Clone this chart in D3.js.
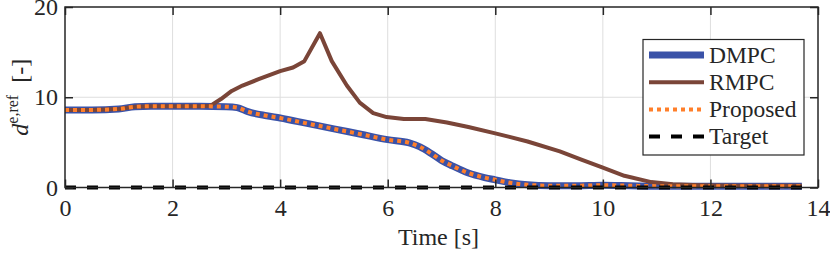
<!DOCTYPE html>
<html lang="en">
<head>
<meta charset="utf-8">
<title>Distance to reference</title>
<script src="https://cdn.jsdelivr.net/npm/d3@7"></script>
<style>
  body { margin: 0; background: #fff; }
  text { font-family: "Liberation Serif", "DejaVu Serif", serif; fill: #262626; }
  .tick text { font-size: 24px; }
</style>
</head>
<body>
<div id="chart"></div>
<script>
// time [s] and values
var dmpcT = [0, 0.5, 1.0, 1.3, 1.6, 2.0, 2.5, 3.0, 3.2, 3.4, 3.75, 4.0, 4.5, 5.0, 5.5, 6.0, 6.4, 6.6, 6.8, 7.0, 7.2, 7.5, 7.8, 8.0, 8.3, 8.6, 9.0, 9.5, 10.0, 10.5, 11.0, 11.5, 12.0, 12.5, 13.0, 13.7];
var dmpcV = [8.6, 8.6, 8.7, 8.95, 9.0, 9.0, 9.0, 8.95, 8.85, 8.4, 7.95, 7.7, 7.1, 6.5, 5.9, 5.3, 4.95, 4.5, 3.8, 3.0, 2.4, 1.6, 1.1, 0.85, 0.5, 0.3, 0.2, 0.2, 0.25, 0.2, 0.15, 0.15, 0.15, 0.15, 0.15, 0.15];

var rmpcT = [0, 0.5, 1.0, 1.3, 1.6, 2.0, 2.5, 2.7, 2.9, 3.1, 3.3, 3.6, 4.0, 4.24, 4.45, 4.74, 4.96, 5.24, 5.48, 5.73, 5.98, 6.3, 6.7, 7.1, 7.5, 8.0, 8.6, 9.2, 9.6, 10.0, 10.4, 10.9, 11.3, 11.8, 12.5, 13.7];
var rmpcV = [8.6, 8.6, 8.7, 8.95, 9.0, 9.0, 9.0, 9.05, 9.8, 10.7, 11.3, 12.0, 12.9, 13.3, 14.0, 17.1, 14.0, 11.3, 9.4, 8.25, 7.8, 7.6, 7.6, 7.2, 6.7, 6.0, 5.1, 4.0, 3.1, 2.2, 1.3, 0.6, 0.35, 0.25, 0.2, 0.2];

var propT = dmpcT.slice();
var propV = [8.6, 8.6, 8.7, 8.95, 9.0, 9.0, 9.0, 8.95, 8.85, 8.4, 7.95, 7.7, 7.1, 6.5, 5.9, 5.3, 4.95, 4.5, 3.8, 3.0, 2.4, 1.6, 1.1, 0.85, 0.5, 0.3, 0.2, 0.2, 0.25, 0.2, 0.15, 0.15, 0.15, 0.15, 0.15, 0.15];

var targetT = [0, 13.7];
var targetV = [0, 0];

var xTicks = [0, 2, 4, 6, 8, 10, 12, 14];
var yTicks = [0, 10, 20];

var w = 830, h = 254;
var mL = 65, mR = 818, mT = 7, mB = 187.5;

var svg = d3.select("#chart").append("svg")
  .attr("width", w)
  .attr("height", h);

var x = d3.scaleLinear().domain([0, 14]).range([mL, mR]);
var y = d3.scaleLinear().domain([0, 20]).range([mB, mT]);

// grid
svg.append("g").selectAll("line")
  .data(xTicks.slice(1, -1))
  .enter().append("line")
  .attr("x1", d => x(d)).attr("x2", d => x(d))
  .attr("y1", mT).attr("y2", mB)
  .attr("stroke", "#dedede").attr("stroke-width", 1);
svg.append("g").selectAll("line")
  .data(yTicks.slice(1, -1))
  .enter().append("line")
  .attr("x1", mL).attr("x2", mR)
  .attr("y1", d => y(d)).attr("y2", d => y(d))
  .attr("stroke", "#dedede").attr("stroke-width", 1);

var series = [
  { name: "DMPC", t: dmpcT, v: dmpcV, color: "#3a52a8", width: 7, dash: null },
  { name: "RMPC", t: rmpcT, v: rmpcV, color: "#7a4538", width: 4, dash: null },
  { name: "Proposed", t: propT, v: propV, color: "#ff7f2a", width: 4, dash: "4,4" },
  { name: "Target", t: targetT, v: targetV, color: "#000000", width: 4, dash: "11,11" }
];

var line = d3.line()
  .x(d => x(d[0]))
  .y(d => y(d[1]));

var plot = svg.append("g");
series.forEach(function(s) {
  plot.append("path")
    .datum(d3.zip(s.t, s.v))
    .attr("fill", "none")
    .attr("stroke", s.color)
    .attr("stroke-width", s.width)
    .attr("stroke-linejoin", "round")
    .attr("stroke-dasharray", s.dash)
    .attr("d", s.name === "RMPC" ? line.curve(d3.curveLinear) : line.curve(d3.curveMonotoneX));
});

// axes, ticks inside, box on
svg.append("g")
  .attr("transform", "translate(0," + mB + ")")
  .call(d3.axisBottom(x).tickValues(xTicks).tickSizeInner(-8).tickSizeOuter(0).tickPadding(11))
  .call(g => g.select(".domain").remove());
svg.append("g")
  .attr("transform", "translate(0," + mT + ")")
  .call(d3.axisTop(x).tickValues(xTicks).tickSizeInner(-8).tickSizeOuter(0).tickFormat(""))
  .call(g => g.select(".domain").remove());
svg.append("g")
  .attr("transform", "translate(" + mL + ",0)")
  .call(d3.axisLeft(y).tickValues(yTicks).tickSizeInner(-8).tickSizeOuter(0).tickPadding(7))
  .call(g => g.select(".domain").remove());
svg.append("g")
  .attr("transform", "translate(" + mR + ",0)")
  .call(d3.axisRight(y).tickValues(yTicks).tickSizeInner(-8).tickSizeOuter(0).tickFormat(""))
  .call(g => g.select(".domain").remove());

svg.selectAll(".tick line").attr("stroke", "#262626").attr("stroke-width", 1.5);
svg.selectAll(".tick text").attr("fill", "#262626");

svg.append("rect")
  .attr("x", mL).attr("y", mT)
  .attr("width", mR - mL).attr("height", mB - mT)
  .attr("fill", "none").attr("stroke", "#262626").attr("stroke-width", 1.5);

// axis labels
svg.append("text")
  .attr("x", (mL + mR) / 2 - 3)
  .attr("y", 245)
  .attr("text-anchor", "middle")
  .style("font-size", "24px")
  .text("Time [s]");

var yl = svg.append("text")
  .attr("transform", "translate(28," + ((mT + mB) / 2) + ") rotate(-90)")
  .attr("text-anchor", "middle")
  .style("font-size", "24px");
yl.append("tspan").style("font-style", "italic").text("d");
yl.append("tspan").attr("dy", -10).style("font-size", "16px").text("e,ref");
yl.append("tspan").attr("dy", 10).text("\u2002[-]");

// legend
var lg = svg.append("g");
lg.append("rect")
  .attr("x", 643).attr("y", 39.5)
  .attr("width", 161).attr("height", 115.5)
  .attr("fill", "#fff").attr("stroke", "#262626").attr("stroke-width", 1.2);
series.forEach(function(s, i) {
  var yy = 55 + i * 27.2;
  lg.append("line")
    .attr("x1", 649).attr("x2", 704)
    .attr("y1", yy).attr("y2", yy)
    .attr("stroke", s.color)
    .attr("stroke-width", s.width)
    .attr("stroke-dasharray", s.dash);
  lg.append("text")
    .attr("x", 709).attr("y", yy + 7.5)
    .style("font-size", "23.5px")
    .attr("fill", "#000")
    .text(s.name);
});
</script>
</body>
</html>
